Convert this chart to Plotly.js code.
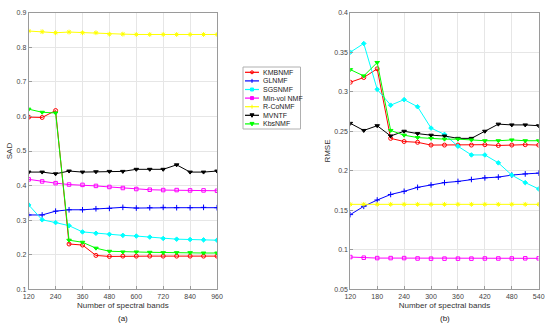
<!DOCTYPE html>
<html><head><meta charset="utf-8">
<script src="https://cdn.plot.ly/plotly-3.0.1.min.js"></script>
<style>html,body{margin:0;padding:0;background:#fff}#chart{width:550px;height:327px}</style>
</head><body><div id="chart"></div>
<script>
// ---------- data ----------
const seriesNames = ["KMBNMF","GLNMF","SGSNMF","Min-vol NMF","R-CoNMF","MVNTF","KbsNMF"];
const bandsA = [120,180,240,300,360,420,480,540,600,660,720,780,840,900,960];
const bandsB = [120,150,180,210,240,270,300,330,360,390,420,450,480,510,540];

const sadKMBNMF  = [0.598,0.597,0.617,0.231,0.228,0.198,0.195,0.196,0.196,0.196,0.196,0.196,0.196,0.196,0.196];
const sadGLNMF   = [0.315,0.315,0.326,0.330,0.330,0.333,0.334,0.337,0.335,0.336,0.337,0.336,0.336,0.337,0.336];
const sadSGSNMF  = [0.344,0.301,0.293,0.284,0.266,0.262,0.259,0.256,0.254,0.251,0.247,0.245,0.244,0.243,0.242];
const sadMinVol  = [0.418,0.412,0.407,0.403,0.402,0.399,0.396,0.393,0.390,0.388,0.387,0.387,0.386,0.386,0.385];
const sadRCoNMF  = [0.847,0.845,0.842,0.844,0.842,0.842,0.838,0.838,0.837,0.837,0.837,0.837,0.837,0.837,0.837];
const sadMVNTF   = [0.439,0.439,0.434,0.442,0.439,0.440,0.441,0.441,0.447,0.447,0.447,0.460,0.439,0.439,0.442];
const sadKbsNMF  = [0.621,0.612,0.610,0.242,0.236,0.219,0.210,0.208,0.208,0.207,0.206,0.206,0.206,0.205,0.205];

const rmseKMBNMF = [0.312,0.318,0.329,0.241,0.237,0.236,0.2325,0.2325,0.2325,0.2325,0.233,0.232,0.2325,0.233,0.2325];
const rmseGLNMF  = [0.1445,0.155,0.163,0.170,0.174,0.179,0.182,0.185,0.1865,0.189,0.191,0.192,0.1945,0.196,0.197];
const rmseSGSNMF = [0.350,0.361,0.303,0.283,0.290,0.281,0.254,0.246,0.231,0.220,0.220,0.210,0.1945,0.185,0.177];
const rmseMinVol = [0.0908,0.090,0.0895,0.0895,0.0895,0.089,0.0888,0.0888,0.0888,0.0888,0.089,0.089,0.089,0.0892,0.0892];
const rmseRCoNMF = [0.1575,0.1575,0.1575,0.1575,0.1575,0.1575,0.1575,0.1575,0.1575,0.1575,0.1575,0.1575,0.1575,0.1575,0.1575];
const rmseMVNTF  = [0.260,0.251,0.257,0.244,0.250,0.247,0.245,0.244,0.241,0.241,0.250,0.259,0.258,0.258,0.257];
const rmseKbsNMF = [0.328,0.320,0.337,0.251,0.245,0.242,0.241,0.240,0.240,0.239,0.238,0.238,0.239,0.238,0.238];

const ticksA = [120,240,360,480,600,720,840,960];
const ticksB = [120,180,240,300,360,420,480,540];

// ---------- styles ----------
const colors  = ["#ff0000","#0000ff","#00ffff","#ff00ff","#ffff00","#000000","#00ff00"];
const symbols = ["circle-open","cross-thin-open","diamond","square-open","asterisk-open","triangle-down","triangle-down"];
const msizes  = [4,4,3.5,3.5,4,4,4];

const sadSeries  = [sadKMBNMF,sadGLNMF,sadSGSNMF,sadMinVol,sadRCoNMF,sadMVNTF,sadKbsNMF];
const rmseSeries = [rmseKMBNMF,rmseGLNMF,rmseSGSNMF,rmseMinVol,rmseRCoNMF,rmseMVNTF,rmseKbsNMF];

const traces = [];
seriesNames.forEach((n,i)=>{
  traces.push({x:bandsA,y:sadSeries[i],xaxis:'x',yaxis:'y',mode:'lines+markers',name:n,showlegend:false,
    line:{color:colors[i],width:1},marker:{symbol:symbols[i],size:msizes[i],color:colors[i],line:{color:colors[i],width:1}}});
  traces.push({x:bandsB,y:rmseSeries[i],xaxis:'x2',yaxis:'y2',mode:'lines+markers',name:n,showlegend:false,
    line:{color:colors[i],width:1},marker:{symbol:symbols[i],size:msizes[i],color:colors[i],line:{color:colors[i],width:1}}});
});

const W=550,H=327;
const px = v=>v/W, py = v=>1-v/H;
const FONT = "Arial, 'Liberation Sans', sans-serif";

const axisCommon = {showline:true,mirror:true,linecolor:'#9a9a9a',linewidth:1,gridcolor:'#e6e6e6',gridwidth:1,
  zeroline:false,ticks:'inside',ticklen:3,tickcolor:'#9a9a9a',tickfont:{family:FONT,size:7,color:'#444'}};

const shapes=[], annotations=[];
// custom compact legend
shapes.push({type:'rect',xref:'paper',yref:'paper',x0:px(243),x1:px(300.5),y0:py(129),y1:py(67),
  line:{color:'#b0b0b0',width:1},fillcolor:'#fff'});
seriesNames.forEach((n,i)=>{
  const yc = 72.3 + i*8.6;
  shapes.push({type:'line',xref:'paper',yref:'paper',x0:px(245),x1:px(259),y0:py(yc),y1:py(yc),line:{color:colors[i],width:1.2}});
  const cx=252, r=1.5;
  if(symbols[i].startsWith('circle')) shapes.push({type:'circle',xref:'paper',yref:'paper',x0:px(cx-r),x1:px(cx+r),y0:py(yc+r),y1:py(yc-r),line:{color:colors[i],width:1}});
  else if(symbols[i].startsWith('square')||symbols[i]==='diamond') shapes.push({type:'rect',xref:'paper',yref:'paper',x0:px(cx-r),x1:px(cx+r),y0:py(yc+r),y1:py(yc-r),line:{color:colors[i],width:1},fillcolor:colors[i]});
  else if(symbols[i]==='triangle-down') shapes.push({type:'path',xref:'paper',yref:'paper',
    path:`M ${px(cx-2)} ${py(yc-1.5)} L ${px(cx+2)} ${py(yc-1.5)} L ${px(cx)} ${py(yc+2)} Z`,fillcolor:colors[i],line:{color:colors[i],width:1}});
  else shapes.push({type:'line',xref:'paper',yref:'paper',x0:px(cx),x1:px(cx),y0:py(yc-2),y1:py(yc+2),line:{color:colors[i],width:1}});
  annotations.push({xref:'paper',yref:'paper',x:px(260.5),y:py(yc),xanchor:'left',yanchor:'middle',showarrow:false,
    text:n,font:{family:FONT,size:7,color:'#222'}});
});
annotations.push({xref:'paper',yref:'paper',x:px(123),y:py(318),text:'(a)',showarrow:false,xanchor:'center',yanchor:'middle',font:{family:FONT,size:8,color:'#222'}});
annotations.push({xref:'paper',yref:'paper',x:px(444.5),y:py(318),text:'(b)',showarrow:false,xanchor:'center',yanchor:'middle',font:{family:FONT,size:8,color:'#222'}});

const layout = {
  width:W,height:H,margin:{l:0,r:0,t:0,b:0},paper_bgcolor:'#fff',plot_bgcolor:'#fff',showlegend:false,
  font:{family:FONT,color:'#333'},
  xaxis:Object.assign({},axisCommon,{domain:[px(28.7),px(217)],range:[120,960],tickvals:ticksA,
    title:{text:'Number of spectral bands',font:{family:FONT,size:8,color:'#333'},standoff:3},anchor:'y'}),
  yaxis:Object.assign({},axisCommon,{domain:[py(289.3),py(12.7)],range:[0.1,0.9],dtick:0.1,tick0:0.1,
    title:{text:'SAD',font:{family:FONT,size:8,color:'#333'},standoff:2},anchor:'x'}),
  xaxis2:Object.assign({},axisCommon,{domain:[px(350.3),px(538.7)],range:[120,540],tickvals:ticksB,
    title:{text:'Number of spectral bands',font:{family:FONT,size:8,color:'#333'},standoff:3},anchor:'y2'}),
  yaxis2:Object.assign({},axisCommon,{domain:[py(289.3),py(12.7)],range:[0.05,0.4],dtick:0.05,tick0:0.05,
    title:{text:'RMSE',font:{family:FONT,size:8,color:'#333'},standoff:2},anchor:'x2'}),
  shapes:shapes,annotations:annotations
};
Plotly.newPlot('chart',traces,layout,{displayModeBar:false,staticPlot:true});
</script></body></html>
